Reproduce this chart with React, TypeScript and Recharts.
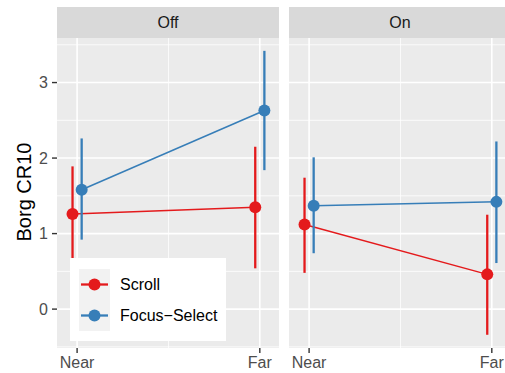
import { LineChart, Line, XAxis, YAxis, CartesianGrid, ReferenceLine, ErrorBar } from 'recharts';

// factor levels and facet panels
const categories = ['Near', 'Far'];
const xPositions = [1, 2];
const panels = ['Off', 'On'];
const seriesNames = ['Scroll', 'Focus\u2212Select'];
const seriesColors = ['#E41A1C', '#377EB8'];

// Borg CR10 means with lower / upper interval ends, per panel
const offScrollMean = [1.26, 1.35];
const offScrollLow = [0.63, 0.54];
const offScrollHigh = [1.89, 2.15];
const offFocusMean = [1.58, 2.63];
const offFocusLow = [0.92, 1.84];
const offFocusHigh = [2.26, 3.42];

const onScrollMean = [1.12, 0.46];
const onScrollLow = [0.48, -0.34];
const onScrollHigh = [1.74, 1.25];
const onFocusMean = [1.37, 1.42];
const onFocusLow = [0.74, 0.61];
const onFocusHigh = [2.01, 2.22];

const yTicks = [0, 1, 2, 3];
const yMinor = [-0.5, 0.5, 1.5, 2.5, 3.5];
const xMinor = [1.5];

const dodge = 0.025;
const yDomain: [number, number] = [-0.515, 3.59];
const xDomain: [number, number] = [0.89, 2.105];

const FONT = '"Liberation Sans", Arial, Helvetica, sans-serif';

const buildSeries = (mean: number[], low: number[], high: number[], shift: number) =>
  mean.map((m, i) => ({
    x: xPositions[i] + shift,
    y: m,
    err: [m - low[i], high[i] - m],
  }));

const panelData = [
  [
    buildSeries(offScrollMean, offScrollLow, offScrollHigh, -dodge),
    buildSeries(offFocusMean, offFocusLow, offFocusHigh, dodge),
  ],
  [
    buildSeries(onScrollMean, onScrollLow, onScrollHigh, -dodge),
    buildSeries(onFocusMean, onFocusLow, onFocusHigh, dodge),
  ],
];

const Panel = ({ series, showY, width }: { series: any[][]; showY: boolean; width: number }) => (
  <LineChart
    width={width}
    height={373}
    margin={{ top: 38, right: showY ? 11 : 0, bottom: 0, left: 0 }}
  >
    <CartesianGrid fill="#EBEBEB" horizontal={false} vertical={false} stroke="none" />
    {yMinor.map((v) => (
      <ReferenceLine key={'ym' + v} y={v} stroke="#FFFFFF" strokeWidth={0.8} />
    ))}
    {xMinor.map((v) => (
      <ReferenceLine key={'xm' + v} x={v} stroke="#FFFFFF" strokeWidth={0.8} />
    ))}
    {yTicks.map((v) => (
      <ReferenceLine key={'y' + v} y={v} stroke="#FFFFFF" strokeWidth={1.6} />
    ))}
    {xPositions.map((v) => (
      <ReferenceLine key={'x' + v} x={v} stroke="#FFFFFF" strokeWidth={1.6} />
    ))}
    <XAxis
      type="number"
      dataKey="x"
      domain={xDomain}
      allowDataOverflow
      ticks={xPositions}
      tickFormatter={(v) => categories[xPositions.indexOf(v)] ?? ''}
      axisLine={false}
      tickSize={5}
      tickMargin={4}
      tickLine={{ stroke: '#333333', strokeWidth: 1.4 }}
      tick={{ fill: '#4D4D4D', fontSize: 16, fontFamily: FONT }}
      height={25}
    />
    <YAxis
      type="number"
      domain={yDomain}
      allowDataOverflow
      ticks={yTicks}
      hide={!showY}
      width={57}
      axisLine={false}
      tickSize={5}
      tickMargin={4}
      tickLine={{ stroke: '#333333', strokeWidth: 1.4 }}
      tick={{ fill: '#4D4D4D', fontSize: 16, fontFamily: FONT }}
    />
    {series.map((data, i) => (
      <Line
        key={seriesNames[i]}
        data={data}
        dataKey="y"
        stroke={seriesColors[i]}
        strokeWidth={1.5}
        dot={{ r: 6, fill: seriesColors[i], stroke: 'none' }}
        activeDot={false}
        isAnimationActive={false}
      >
        <ErrorBar dataKey="err" direction="y" width={0} stroke={seriesColors[i]} strokeWidth={2.3} />
      </Line>
    ))}
  </LineChart>
);

const stripStyle = (left: number): React.CSSProperties => ({
  position: 'absolute',
  left,
  top: 7,
  width: 222,
  height: 31,
  background: '#D9D9D9',
  color: '#1A1A1A',
  fontSize: 16,
  lineHeight: '31px',
  textAlign: 'center',
});

export default function App() {
  return (
    <div
      style={{
        position: 'absolute',
        left: 0,
        top: 0,
        width: 505,
        height: 373,
        overflow: 'hidden',
        background: '#FFFFFF',
        fontFamily: FONT,
      }}
    >
      <div style={{ position: 'absolute', left: 0, top: 0 }}>
        <Panel series={panelData[0]} showY width={290} />
      </div>
      <div style={{ position: 'absolute', left: 289, top: 0 }}>
        <Panel series={panelData[1]} showY={false} width={222} />
      </div>
      <div style={stripStyle(57)}>{panels[0]}</div>
      <div style={stripStyle(289)}>{panels[1]}</div>
      <div
        style={{
          position: 'absolute',
          left: 23.5,
          top: 192,
          transform: 'translate(-50%, -50%) rotate(-90deg)',
          fontSize: 20,
          lineHeight: '23px',
          color: '#000000',
          whiteSpace: 'nowrap',
        }}
      >
        Borg CR10
      </div>
      <div
        style={{
          position: 'absolute',
          left: 70,
          top: 258,
          width: 156,
          height: 83,
          background: '#FFFFFF',
        }}
      >
        <div style={{ position: 'absolute', left: 9, top: 11, width: 31, height: 62, background: '#F2F2F2' }} />
        {seriesNames.map((name, i) => (
          <div key={name} style={{ position: 'absolute', left: 9, top: 11 + i * 31, height: 31 }}>
            <svg width={31} height={31} style={{ position: 'absolute', left: 0, top: 0 }}>
              <line x1={2} y1={15.5} x2={29} y2={15.5} stroke={seriesColors[i]} strokeWidth={2.3} />
              <circle cx={15.5} cy={15.5} r={6} fill={seriesColors[i]} />
            </svg>
            <div
              style={{
                position: 'absolute',
                left: 41,
                top: 0,
                height: 31,
                lineHeight: '31px',
                fontSize: 16,
                color: '#000000',
                whiteSpace: 'nowrap',
              }}
            >
              {name}
            </div>
          </div>
        ))}
      </div>
    </div>
  );
}
